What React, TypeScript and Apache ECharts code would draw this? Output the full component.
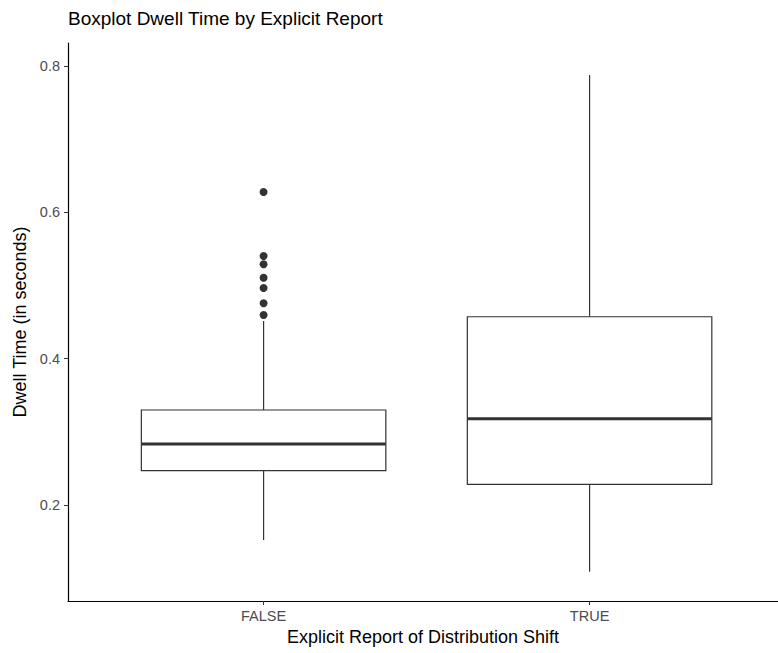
import React, { useEffect, useRef } from "react";
import * as echarts from "echarts";

const categories = ["FALSE", "TRUE"];
// [lower whisker, Q1, median, Q3, upper whisker]
const boxStats = [
  [0.1522, 0.2469, 0.2834, 0.3298, 0.4515],
  [0.1088, 0.2283, 0.3179, 0.4573, 0.7877],
];
const outliersFalse = [0.6278, 0.5403, 0.529, 0.5106, 0.4966, 0.4757, 0.4597];
const yTicks = [0.2, 0.4, 0.6, 0.8];
const xTicks = [1, 2];

const FONT = "'Liberation Sans', Arial, sans-serif";
const INK = "#333333";

export default function App() {
  const ref = useRef<HTMLDivElement>(null);
  useEffect(() => {
    if (!ref.current) return;
    const chart = echarts.init(ref.current, undefined, { renderer: "svg" });
    const boxData = boxStats.map((s, i) => [i + 1, ...s]);
    const outlierData = outliersFalse.map((v) => [1, v]);
    chart.setOption({
      animation: false,
      backgroundColor: "#ffffff",
      title: {
        text: "Boxplot Dwell Time by Explicit Report",
        left: 68,
        top: 9,
        padding: 0,
        textStyle: { fontFamily: FONT, fontSize: 19, fontWeight: "normal", color: "#000" },
      },
      grid: { left: 68, top: 43, right: 0, height: 558, outerBoundsMode: "none", containLabel: false },
      xAxis: {
        type: "value",
        min: 0.4,
        max: 2.578,
        name: "Explicit Report of Distribution Shift",
        nameLocation: "middle",
        nameGap: 26,
        nameTextStyle: { fontFamily: FONT, fontSize: 18, color: "#000" },
        axisLine: { show: true, lineStyle: { color: "#000", width: 1.2 } },
        axisTick: { show: true, length: 4, customValues: xTicks, lineStyle: { color: INK, width: 1 } },
        axisLabel: {
          customValues: xTicks,
          formatter: (v: number) => categories[Math.round(v) - 1] ?? "",
          fontFamily: FONT,
          fontSize: 14.5,
          color: "#4d4d4d",
          margin: 7,
        },
        splitLine: { show: false },
      },
      yAxis: {
        type: "value",
        min: 0.0688,
        max: 0.8314,
        name: "Dwell Time (in seconds)",
        nameLocation: "middle",
        nameRotate: 90,
        nameGap: 39,
        nameTextStyle: { fontFamily: FONT, fontSize: 18, color: "#000" },
        axisLine: { show: true, lineStyle: { color: "#000", width: 1.2 } },
        axisTick: { show: true, length: 4, customValues: yTicks, lineStyle: { color: INK, width: 1 } },
        axisLabel: {
          customValues: yTicks,
          formatter: (v: number) => v.toFixed(1),
          fontFamily: FONT,
          fontSize: 14.5,
          color: "#4d4d4d",
          margin: 8,
        },
        splitLine: { show: false },
      },
      series: [
        {
          type: "custom",
          data: boxData,
          renderItem: (params: any, api: any) => {
            const x = api.value(0);
            const lo = api.coord([x, api.value(1)]);
            const q1 = api.coord([x, api.value(2)]);
            const md = api.coord([x, api.value(3)]);
            const q3 = api.coord([x, api.value(4)]);
            const hi = api.coord([x, api.value(5)]);
            const w = api.size([0.75, 0])[0];
            const cx = lo[0];
            const lineStyle = { stroke: INK, lineWidth: 1.2, fill: "none" };
            return {
              type: "group",
              children: [
                { type: "line", shape: { x1: cx, y1: q3[1], x2: cx, y2: hi[1] }, style: lineStyle },
                { type: "line", shape: { x1: cx, y1: q1[1], x2: cx, y2: lo[1] }, style: lineStyle },
                {
                  type: "rect",
                  shape: { x: cx - w / 2, y: q3[1], width: w, height: q1[1] - q3[1] },
                  style: { stroke: INK, lineWidth: 1.2, fill: "#ffffff" },
                },
                {
                  type: "line",
                  shape: { x1: cx - w / 2, y1: md[1], x2: cx + w / 2, y2: md[1] },
                  style: { stroke: INK, lineWidth: 2.8 },
                },
              ],
            };
          },
        },
        {
          type: "scatter",
          data: outlierData,
          symbol: "circle",
          symbolSize: 8,
          itemStyle: { color: INK, opacity: 1 },
        },
      ],
    });
    return () => chart.dispose();
  }, []);
  return <div ref={ref} style={{ width: 778, height: 653, position: "absolute", left: 0, top: 0 }} />;
}
